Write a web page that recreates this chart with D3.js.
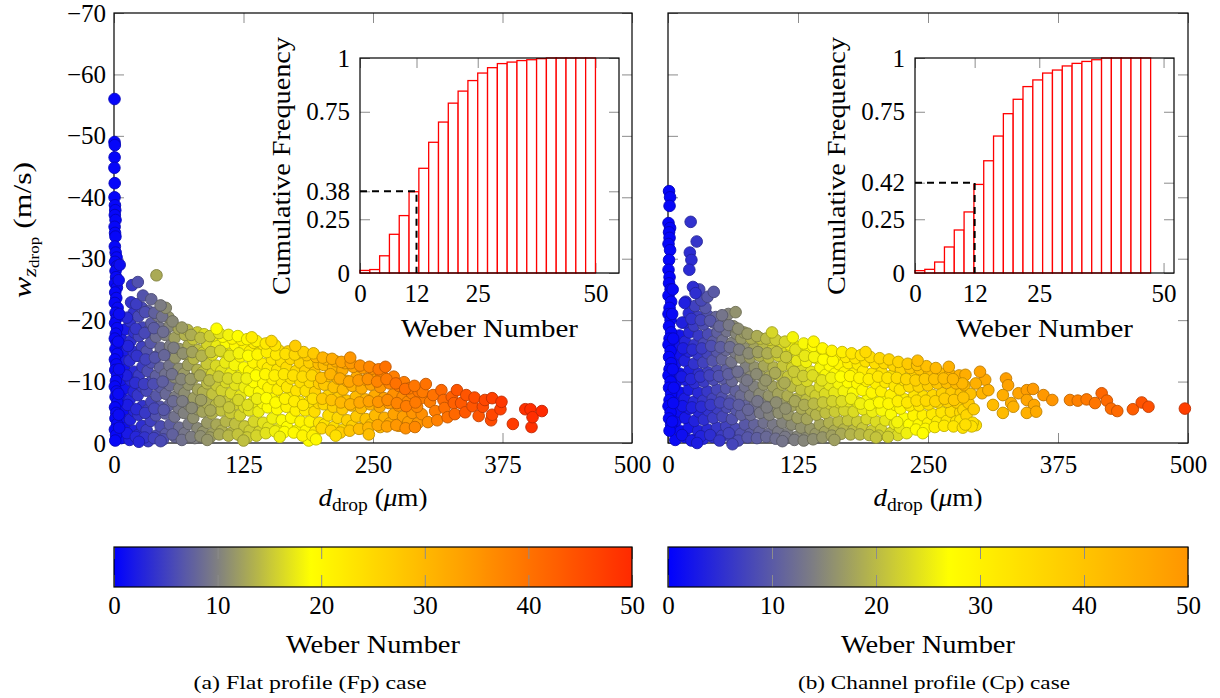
<!DOCTYPE html>
<html><head><meta charset="utf-8">
<script src="https://cdn.jsdelivr.net/npm/d3@7"></script>
<style>
body{margin:0;background:#fff}
svg{display:block}
text{font-family:"Liberation Serif","Times New Roman",serif;fill:#000}
</style>
</head><body>
<svg id="c" width="1220" height="698"></svg>
<script>
// ---------------- DATA ----------------
const xTicks = [0, 125, 250, 375, 500];
const yTicks = [0, -10, -20, -30, -40, -50, -60, -70];
const cbTicks = [0, 10, 20, 30, 40, 50];
const insetXTicks = [0, 12, 25, 50];
const fpInsetYTicks = [0, 0.25, 0.38, 0.75, 1];
const cpInsetYTicks = [0, 0.25, 0.42, 0.75, 1];
const fpCumFreq = [0.012,0.016,0.08,0.18,0.267,0.378,0.487,0.608,0.702,0.79,0.846,0.895,0.93,0.955,0.974,0.981,0.988,0.992,0.997,1,1,1,1,1];
const cpCumFreq = [0.011,0.017,0.051,0.121,0.2,0.284,0.412,0.522,0.637,0.741,0.808,0.867,0.898,0.93,0.944,0.963,0.975,0.984,0.992,1,1,1,1,1];
const fpBinMax = 50, cpBinMax = 47.4;
const fpMark = [12, 0.38], cpMark = [12, 0.42];
const cmapStops = [0, 0.2, 0.38, 0.66, 1];
const cmapColors = ["#0000ff", "#808080", "#ffff00", "#ffa500", "#ff2a00"];
const fpWeMax = 50, cpWeMax = 71;
const captions = ["(a) Flat profile (Fp) case", "(b) Channel profile (Cp) case"];

// [d_drop (um), w_z (m/s), Weber number]
const fpDrops = [
[7,-0.8,1],[10,-2.5,1],[6.5,-4.1,1],[10.5,-5.5,1],[7.5,-7.3,1.5],[11,-8.9,1.5],[7,-10.3,1.5],[10,-12.1,1.5],[7.5,-13.7,2],[10.5,-15.1,2],[7,-16.9,2],[11,-18.5,2],
[15,-0.5,2.5],[19,-2,2.5],[15.5,-3.8,2.6],[19.5,-5.2,2.8],[15,-7,2.9],[19,-8.4,3],[16,-10.2,3.1],[19.5,-11.6,3.3],[15,-13.4,3.4],[19,-14.8,3.5],[16,-16.6,3.6],[19.5,-18,3.8],[15.5,-19.8,3.9],[19,-21.2,4],[16.5,-22.9,4.1],[17.5,-25.7,4.3],
[23,-1.3,3.5],[27,-2.8,3.7],[23.5,-4.6,3.9],[27.5,-6,4],[23,-7.8,4.2],[27,-9.2,4.4],[24,-11,4.6],[27.5,-12.4,4.7],[23,-14.2,4.9],[27,-15.6,5],[24,-17.4,5.2],[27.5,-18.8,5.4],[23.5,-20.6,5.6],[27,-22,5.8],[23,-26.2,6.3],
[33,-0.3,4.5],[31.5,-2.1,4.7],[35.5,-3.6,4.9],[32,-5.3,5.2],[36,-6.7,5.4],[31.5,-8.5,5.6],[35.5,-9.9,5.8],[32.5,-11.7,6],[36,-13.1,6.3],[31.5,-14.9,6.5],[35.5,-16.3,6.8],[32,-18.1,7],[36,-19.5,7.2],[33,-21.5,7.5],
[41,-1.2,5.8],[45,-2.7,6],[40.5,-4.5,6.4],[44.5,-5.9,6.6],[41,-7.7,6.9],[45,-9.1,7.2],[40.5,-10.9,7.5],[44.5,-12.3,7.8],[41,-14.1,8.1],[45,-15.5,8.4],[40.5,-17.3,8.6],[44.5,-18.7,8.9],[42,-20.7,9.2],[41,-27.3,13],
[50,-1.5,7],[54,-3,7.3],[49.5,-4.8,7.6],[53.5,-6.2,7.9],[50,-8,8.2],[54,-9.4,8.5],[49.5,-11.2,8.8],[53.5,-12.6,9.1],[50,-14.4,9.5],[54,-15.8,9.8],[49.5,-17.6,10.1],[53.5,-19,10.4],[52.5,-20.5,11.5],
[59,-1,8.2],[63,-2.5,8.6],[58.5,-4.3,9],[62.5,-5.7,9.4],[59,-7.5,9.8],[63,-8.9,10.2],[58.5,-10.7,10.7],[62.5,-12.1,11],[59,-13.9,11.5],[63,-15.3,11.8],[58.5,-17.1,12.3],[62.5,-18.6,12.6],
[68,-1.6,9.2],[72,-3.1,9.6],[67.5,-4.9,10.1],[71.5,-6.3,10.5],[68,-8.1,11],[72,-9.5,11.4],[67.5,-11.3,11.9],[71.5,-12.7,12.3],[68,-14.5,12.8],[72,-15.9,13.2],[68.5,-17.6,13.6],[71,-18.4,13.9],
[78,-0.8,10],[80.5,-2.4,10.6],[76.5,-4.1,11.1],[80.5,-5.5,11.5],[77,-7.3,12.1],[81,-8.7,12.5],[76.5,-10.5,13],[80.5,-11.9,13.5],[77,-13.7,14],[81,-15.1,14.5],[76.5,-16.9,15],[80.5,-18,15.4],
[86,-1.8,11.4],[90,-3.3,11.9],[85.5,-5.1,12.5],[89.5,-6.5,13],[86,-8.3,13.5],[90,-9.7,14.1],[85.5,-11.5,14.7],[89.5,-12.9,15.2],[86,-14.7,15.8],[90,-16.1,16.2],[87,-17.7,16.8],
[95,-1.5,12.3],[99,-3,12.9],[94.5,-4.8,13.5],[98.5,-6.2,14],[95,-8,14.7],[99,-9.4,15.2],[94.5,-11.2,15.9],[98.5,-12.6,16.4],[95,-14.4,17],[99,-15.8,17.6],[96,-17.5,18.2],
[104,-2,13.3],[108,-3.5,13.8],[103.5,-5.3,14.6],[107.5,-6.7,15.1],[104,-8.5,15.8],[108,-9.9,16.3],[103.5,-11.7,17],[107.5,-13.1,17.6],[104,-14.9,18.3],[108,-16.3,18.8],[105,-17.3,19.2],
[113,-1.6,13.9],[117,-3.1,14.5],[112.5,-4.9,15.2],[116.5,-6.3,15.8],[113,-8.1,16.5],[117,-9.5,17.1],[112.5,-11.3,17.9],[116.5,-12.7,18.4],[113,-14.5,19.2],[117,-15.9,19.8],[114,-17,20.2],
[122,-1.2,14.4],[126,-2.7,15.1],[121.5,-4.5,15.9],[125.5,-5.9,16.5],[122,-7.7,17.3],[126,-9.1,17.9],[121.5,-10.9,18.7],[125.5,-12.3,19.3],[122,-14.1,20.1],[126,-15.5,20.7],[123,-16.8,21.2],
[131,-2,15.5],[135,-3.5,16.2],[130.5,-5.3,17],[134.5,-6.7,17.7],[131,-8.5,18.5],[135,-9.9,19.1],[130.5,-11.7,19.9],[134.5,-13.1,20.6],[131,-14.9,21.4],[135,-16.3,22],
[140,-1.8,16.2],[144,-3.3,17],[139.5,-5.1,17.8],[143.5,-6.5,18.5],[140,-8.3,19.3],[144,-9.7,20],[139.5,-11.5,20.9],[143.5,-12.9,21.6],[140,-14.7,22.4],[144,-16,23],
[149,-2.5,17.2],[153,-4,18],[148.5,-5.8,18.9],[152.5,-7.2,19.6],[149,-9,20.5],[153,-10.4,21.2],[148.5,-12.2,22.1],[152.5,-13.6,22.8],[150,-15.4,23.7],
[158,-2.2,17.9],[162,-3.7,18.7],[157.5,-5.5,19.7],[161.5,-6.9,20.4],[158,-8.7,21.4],[162,-10.1,22.1],[157.5,-11.9,23],[161.5,-13.3,23.8],[159,-15.1,24.7],
[167,-2.6,19],[171,-4.1,19.8],[166.5,-5.9,20.8],[170.5,-7.3,21.6],[167,-9.1,22.6],[171,-10.5,23.4],[166.5,-12.3,24.4],[170.5,-13.7,25.1],[168,-14.9,25.8],
[176,-2,19.5],[180,-3.5,20.4],[175.5,-5.3,21.4],[179.5,-6.7,22.3],[176,-8.5,23.3],[180,-9.9,24.1],[175.5,-11.7,25.1],[179.5,-13.1,25.9],[177,-14.6,26.8],
[188,-0.4,19.2],[185,-2,19.9],[189,-3.5,20.9],[184.5,-5.3,22],[188.5,-6.7,22.9],[185,-8.5,23.9],[189,-9.9,24.8],[184.5,-11.7,25.9],[188.5,-13.1,26.7],[186,-14.3,27.4],
[194,-1.8,22.3],[198,-3.3,23.2],[193.5,-5.1,24.3],[197.5,-6.5,25.2],[194,-8.3,26.3],[198,-9.7,27.1],[193.5,-11.5,28.2],[197.5,-12.9,29.1],[195,-14,29.8],
[203,-3,23.3],[207,-4.5,24.3],[202.5,-6.3,25.4],[206.5,-7.7,26.3],[203,-9.5,27.5],[207,-10.9,28.4],[202.5,-12.7,29.5],[205,-13.6,30.1],
[212,-2.6,24.3],[216,-4.1,25.3],[211.5,-5.9,26.5],[215.5,-7.3,27.5],[212,-9.1,28.6],[216,-10.5,29.6],[211.5,-12.3,30.7],[214,-13.3,31.4],
[221,-2.2,25.3],[225,-3.7,26.4],[220.5,-5.5,27.6],[224.5,-6.9,28.6],[221,-8.7,29.8],[225,-10.1,30.7],[220.5,-11.9,32],[223,-13,32.7],
[230,-2.8,26.5],[234,-4.3,27.6],[229.5,-6.1,28.9],[233.5,-7.5,29.9],[230,-9.3,31.1],[234,-10.7,32.1],[231,-12.4,33.3],
[239,-2.4,27.5],[243,-3.9,28.6],[238.5,-5.7,29.8],[242.5,-7.1,30.8],[239,-8.9,32.1],[243,-10.3,33.2],[240,-12.2,34.5],
[248,-3,28.7],[252,-4.5,29.9],[247.5,-6.3,31.2],[251.5,-7.7,32.3],[248,-9.5,33.6],[252,-10.9,34.7],[249,-12.1,35.6],
[257,-2.6,30],[261,-4.1,31.3],[256.5,-5.9,32.6],[260.5,-7.3,33.7],[257,-9.1,35.1],[261,-10.5,36.3],[258,-11.3,37],
[266,-3.2,32.2],[270,-4.7,33.4],[265.5,-6.5,34.8],[269.5,-7.9,35.9],[266,-9.7,37.4],[270,-10.8,38.2],
[275,-2.8,32.7],[279,-4.3,34],[274.5,-6.1,35.4],[278.5,-7.5,36.6],[275,-9.3,38.1],[280,-9.9,38.6],
[284,-3.4,34.1],[288,-4.9,35.4],[283.5,-6.7,36.9],[287.5,-8.1,38.1],[285,-8.9,38.8],
[293,-3.2,34.8],[297,-4.7,36.1],[292.5,-5.9,37.2],[296.5,-7.3,38.4],[294,-8.4,39.4],
[298,-8.3,39],[303,-3.4,36],[305,-6.7,38.5],[308,-7.8,40],[310,-5.2,38.5],[312,-3.7,38],[316,-8.6,41.5],[318,-7,41],[319,-5.7,40.5],[322,-4.2,40],[326,-7.5,42.5],[328,-6.5,42.5],[329,-4.7,41.5],[331,-8.6,44],[335,-6.5,43.5],[339,-5,43.5],[340,-7.8,44],[346,-6,44],[348,-7.4,45],[352,-4.4,44],[356,-5.9,45.5],[358,-7,46],[364,-3.7,45.5],[365,-4.6,46],[365,-7.3,47],[373,-5.5,47],[374,-6.7,48],[385,-3.1,47.5],[397,-5.5,49],[402,-5.5,49.5],[403,-2.6,49],[404,-4.2,49.5],[413,-5.2,50]
];

// droplets lying between the rows above and along the ragged edges of the Fp cloud
const fpDropsB = [
[12.5,-1.6,2],[13,-6.2,2.2],[12,-11,2.5],[13.5,-15.8,2.8],[12.5,-20.4,3.2],
[21,-1,3],[21.5,-5.5,3.3],[20.5,-9.8,3.6],[22,-14.2,4],[21,-18.6,4.3],[21.5,-22.6,4.7],
[29.5,-0.9,4],[30,-4.9,4.4],[29,-9.6,4.8],[30.5,-13.6,5.2],[29.5,-17.9,5.6],[30,-21.3,6],
[38.5,-0.8,5],[39,-5.6,5.6],[38,-9.6,6],[39.5,-13.9,6.6],[38.5,-18.7,7.2],[39,-21.2,7.6],
[47.5,-0.6,6.2],[48,-5.4,6.8],[47,-10,7.4],[48.5,-14.3,8],[47.5,-18.1,8.6],[46.5,-20.6,9],
[56.5,-1.4,7.6],[57,-6.8,8.4],[56,-11.2,9],[57.5,-15.5,9.8],[56.5,-19.8,10.6],
[65.5,-0.5,8.8],[66,-6.8,9.8],[65,-10.4,10.4],[66.5,-14.6,11.2],[65.5,-18.8,12],
[74.5,-1,9.8],[75,-5.7,10.7],[74,-10.4,11.6],[75.5,-14.8,12.5],[74.5,-17.6,13.2],
[83.5,-1.1,11],[84,-7,12.1],[83,-11,12.9],[84.5,-14.2,13.6],[83.5,-17.1,14.3],
[92.5,-0.9,12],[93,-5.3,12.9],[92,-10.2,14],[93.5,-14.8,15],[92.5,-17.4,15.6],
[101.5,-1.4,13],[102,-6.8,14.3],[101,-10.8,15.2],[102.5,-15,16.3],[101.5,-17.9,17],
[110.5,-1.2,14],[111,-5.8,15],[110,-10.5,16.2],[111.5,-14.2,17.3],[110.5,-17.6,18.2],
[119.5,-1.4,14.8],[120,-7,16.2],[119,-10.6,17.1],[120.5,-14.6,18.3],[119.5,-17.4,19.2],
[128.5,-0.9,15.3],[129,-6.2,16.8],[128,-10.5,18],[129.5,-14.2,19.2],[128.5,-16.9,20],
[137.5,-1.2,16],[138,-7.2,17.8],[137,-11,19],[138.5,-14.4,20.2],[137.5,-16.6,21],
[146.5,-1.6,17],[147,-7.3,19],[146,-11.2,20.3],[147.5,-14.8,21.6],[146.5,-16.2,22.2],
[155.5,-1.9,18],[156,-6.6,19.7],[155,-11,21.3],[156.5,-14.4,22.5],[155.5,-15.9,23.2],
[164.5,-1.8,19],[165,-7.2,21],[164,-11.2,22.6],[165.5,-14.5,23.9],
[173.5,-1.7,20],[174,-6.8,22],[173,-11,23.7],[174.5,-14.4,25],
[182,-1.2,20.5],[182.5,-6.2,22.6],[182,-10.8,24.5],[183,-14.8,26.2],
[191.5,-1.2,21],[192,-7.2,24],[191,-11,25.6],[192.5,-14.6,27.2],
[200.5,-2.4,25],[201,-7.2,27.4],[200,-10.6,29],[201.5,-13.9,30.6],
[209.5,-2,26.1],[210,-7,28.7],[209,-11.2,30.9],[210.5,-13.7,32.1],
[218.5,-1.7,27],[219,-6.6,30],[218,-10.5,32],[219.5,-13.2,33.4],
[227.5,-2,28],[228,-6.3,30.8],[227,-10,33],[228.5,-13,34.6],
[236.5,-2.3,29.5],[237,-6.6,32.5],[236,-10.2,34.5],[237.5,-12.6,36.1],
[245.5,-2.5,30.5],[246,-6.8,33.5],[245,-10.4,35.9],[246.5,-12.4,37.1],
[254.5,-2.9,32.5],[255,-6.7,35.2],[254,-10,37.6],[255.5,-12,39],
[263.5,-2.7,33.6],[264,-7,36.6],[263,-10.4,39],
[272.5,-2.9,35],[273,-6.5,37.6],[272,-9.7,40],
[281.5,-2.4,36],[282,-6,38.6],[281,-8.8,40.4],
[290.5,-2.6,37],[291,-6.6,39],[290,-9.3,39.5],
[99,-18.6,19],[133,-17.2,22],[175,-15.8,27],[228,-13.9,35],[262,-12.4,40],[301,-9.6,40],[50,-22,11],[28,-24,6.5],[36,-23.4,8],[45,-22.4,9.8],[152,-16.6,24.6],
[24,-0.2,3],[45,-0.3,5.8],[90,-0.5,11.5],[125,-0.4,14.5],[160,-1,18],[195,-0.6,20],[214,-1.2,24],[246,-1.4,29]
];

// droplets along the near-wall column of the Fp case (d ~ 0)
const fpWall = [
[0.5,-56,0.5],[0.5,-49,0.5],[0.8,-48.5,0.5],[0.6,-46.5,0.5],[0.4,-44.8,0.5],[0.7,-42.3,0.5],[0.5,-40,0.5],[0.9,-38.7,0.5],[1.2,-37.9,0.5],[0.8,-37.1,0.5],[1.5,-36.3,0.5],[0.6,-35.2,0.5],[1,-34.2,0.5],[1.4,-33.6,0.5],[0.8,-32,0.5],[1.6,-31,0.6],[2.5,-30.2,0.6],[1,-29.5,0.6],[3,-28.8,0.7],[1.5,-28,0.6],[2,-27,0.6],[1,-26,0.6],[2.8,-25.3,0.7],[1.2,-24.5,0.6],[2.2,-23.6,0.7],[0.8,-22.8,0.6],[3.5,-22,0.8],[1.5,-21.2,0.6],[2.5,-20.3,0.7],[1,-19.5,0.6],[3,-18.7,0.8],[1.8,-17.8,0.7],[0.8,-17,0.6],[2.6,-16.2,0.7],[1.4,-15.3,0.6],[3.2,-14.5,0.8],[0.9,-13.6,0.6],[2.2,-12.8,0.7],[1.2,-11.9,0.6],[3,-11,0.8],[1.8,-10.1,0.7],[0.8,-9.2,0.6],[2.5,-8.4,0.7],[1.5,-7.5,0.6],[3.2,-6.6,0.8],[1,-5.8,0.6],[2.2,-4.9,0.7],[1.4,-4,0.6],[3,-3.1,0.8],[0.9,-2.2,0.6],[2,-1.3,0.6],[1.2,-0.4,0.6],[4.5,-4.6,0.9],[5,-2.5,1],[4.2,-8,0.9],[4.8,-12,1],[4,-16.5,0.9],[5,-21,1],[4.5,-26.5,1],[5.5,-29,1.1]
];

const cpDrops = [
[7,-0.5,1.1],[11,-2,1.2],[7.5,-3.6,1.3],[11,-5.1,1.3],[7,-6.7,1.4],[11.5,-8.2,1.5],[7.5,-9.8,1.6],[11,-11.3,1.7],[7,-12.9,1.8],[11.5,-14.4,1.9],[7.5,-16,2],[11,-17.5,2.1],
[16,-1,2.2],[20,-2.5,2.4],[16.5,-4.1,2.6],[20.5,-5.6,2.8],[16,-7.2,3],[20,-8.7,3.1],[16.5,-10.3,3.3],[20.5,-11.8,3.5],[16,-13.4,3.7],[20,-14.9,3.9],[16.5,-16.5,4.1],[20.5,-18,4.3],[16,-19.6,4.5],[20,-21.1,4.6],[17,-23,4.9],
[25,-0.5,3.2],[29,-2,3.5],[25.5,-3.6,3.8],[29.5,-5.1,4.1],[25,-6.7,4.4],[29,-8.2,4.6],[25.5,-9.8,5],[29.5,-11.3,5.2],[25,-12.9,5.5],[29,-14.4,5.8],[25.5,-16,6],[29.5,-17.5,6.3],[25,-19.1,6.6],[29,-20.6,6.9],[26,-22.3,7.2],
[34,-0.7,4.4],[38,-2.2,4.7],[34.5,-3.8,5.1],[38.5,-5.3,5.5],[34,-6.9,5.9],[38,-8.4,6.2],[34.5,-10,6.6],[38.5,-11.5,7],[34,-13.1,7.3],[38,-14.6,7.7],[34.5,-16.2,8.1],[38.5,-17.7,8.4],[34,-19.3,8.8],[38,-20.8,9.2],[36,-22,9.5],
[43,-1,5.5],[47,-2.5,6],[43.5,-4.1,6.5],[47.5,-5.6,6.9],[43,-7.2,7.4],[47,-8.7,7.9],[43.5,-10.3,8.3],[47.5,-11.8,8.8],[43,-13.4,9.3],[47,-14.9,9.7],[43.5,-16.5,10.2],[47.5,-18,10.6],[44,-19.6,11.1],[46,-20.5,11.4],
[52,-1.2,6.7],[56,-2.7,7.3],[52.5,-4.3,7.8],[56.5,-5.8,8.4],[52,-7.4,9],[56,-8.9,9.5],[52.5,-10.5,10.1],[56.5,-12,10.6],[52,-13.6,11.2],[56,-15.1,11.7],[52.5,-16.7,12.3],[56.5,-18.2,12.9],[54,-19.5,13.3],
[61,-0.8,7.7],[65,-2.3,8.3],[61.5,-3.9,9],[65.5,-5.4,9.6],[61,-7,10.3],[65,-8.5,10.9],[61.5,-10.1,11.6],[65.5,-11.6,12.2],[61,-13.2,12.9],[65,-14.7,13.5],[61.5,-16.3,14.2],[65.5,-17.8,14.8],[63,-19,15.3],
[70,-1.5,9.1],[74,-3,9.8],[70.5,-4.6,10.6],[74.5,-6.1,11.3],[70,-7.7,12.1],[74,-9.2,12.8],[70.5,-10.8,13.6],[74.5,-12.3,14.3],[70,-13.9,15.1],[74,-15.4,15.8],[70.5,-17,16.6],[73,-18,17],
[79,-1.5,10.3],[83,-3,11.1],[79.5,-4.6,11.9],[83.5,-6.1,12.7],[79,-7.7,13.6],[83,-9.2,14.4],[79.5,-10.8,15.3],[83.5,-12.3,16.1],[79,-13.9,16.9],[83,-15.4,17.8],[80,-17,18.6],
[88,-1.8,11.6],[92,-3.3,12.5],[88.5,-4.9,13.4],[92.5,-6.4,14.3],[88,-8,15.3],[92,-9.5,16.2],[88.5,-11.1,17.2],[92.5,-12.6,18.1],[88,-14.2,19],[92,-15.7,19.9],[89,-17,20.7],
[97,-1.5,12.4],[101,-3,13.4],[97.5,-4.6,14.4],[101.5,-6.1,15.4],[97,-7.7,16.4],[101,-9.2,17.4],[97.5,-10.8,18.5],[101.5,-12.3,19.4],[97,-13.9,20.5],[101,-15.4,21.5],[98,-16.8,22.4],
[106,-1.8,13.6],[110,-3.3,14.6],[106.5,-4.9,15.8],[110.5,-6.4,16.8],[106,-8,17.9],[110,-9.5,19],[106.5,-11.1,20.1],[110.5,-12.6,21.2],[106,-14.2,22.3],[110,-15.6,23.3],[108,-16.3,23.8],
[115,-1.5,14.3],[119,-3,15.4],[115.5,-4.6,16.6],[119.5,-6.1,17.7],[115,-7.7,18.9],[119,-9.2,20.1],[115.5,-10.8,21.3],[119.5,-12.3,22.4],[115,-13.9,23.6],[119,-15.3,24.7],[117,-16,25.2],
[124,-1,14.8],[128,-2.5,16],[124.5,-4.1,17.3],[128.5,-5.6,18.5],[124,-7.2,19.8],[128,-8.7,21],[124.5,-10.3,22.2],[128.5,-11.8,23.4],[124,-13.4,24.7],[128,-14.9,25.9],[126,-15.6,26.5],
[133,-0.8,15.4],[137,-2.3,16.6],[133.5,-3.9,18],[137.5,-5.4,19.2],[133,-7,20.6],[137,-8.5,21.8],[133.5,-10.1,23.2],[137.5,-11.6,24.4],[133,-13.2,25.8],[137,-14.5,26.9],[135,-15.2,27.5],
[142,-1.5,16.7],[146,-3,18],[142.5,-4.6,19.4],[146.5,-6.1,20.8],[142,-7.7,22.2],[146,-9.2,23.5],[142.5,-10.8,24.9],[146.5,-12.3,26.2],[142,-13.9,27.6],[145,-15,28.6],
[151,-1.8,17.8],[155,-3.3,19.1],[151.5,-4.9,20.6],[155.5,-6.4,22],[151,-8,23.5],[155,-9.5,24.8],[151.5,-11.1,26.3],[155.5,-12.6,27.7],[152,-14.2,29.2],
[160,-2,18.7],[164,-3.5,20.2],[160.5,-5.1,21.7],[164.5,-6.6,23.1],[160,-8.2,24.7],[164,-9.7,26.1],[160.5,-11.3,27.6],[164.5,-12.8,29.1],[162,-14.3,30.5],
[169,-2.2,19.7],[173,-3.7,21.2],[169.5,-5.3,22.8],[173.5,-6.8,24.3],[169,-8.4,25.9],[173,-9.9,27.4],[169.5,-11.5,29],[173.5,-13,30.5],[171,-14,31.5],
[178,-2,20.3],[182,-3.5,21.8],[178.5,-5.1,23.5],[182.5,-6.6,25],[178,-8.2,26.7],[182,-9.7,28.3],[178.5,-11.3,30],[182.5,-12.8,31.5],[180,-13.8,32.5],
[187,-2.4,21.5],[191,-3.9,23.1],[187.5,-5.5,24.9],[191.5,-7,26.5],[187,-8.6,28.2],[191,-10.1,29.8],[187.5,-11.7,31.5],[190,-13.3,33.3],
[196,-2,21.8],[200,-3.5,23.5],[196.5,-5.1,25.3],[200.5,-6.6,27],[196,-8.2,28.8],[200,-9.7,30.5],[196.5,-11.3,32.3],[199,-13,34.2],
[205,-2.2,22.9],[209,-3.7,24.6],[205.5,-5.3,26.4],[209.5,-6.8,28.2],[205,-8.4,30.1],[209,-9.9,31.8],[205.5,-11.5,33.6],[208,-13,35.4],
[214,-1.6,22.9],[218,-3.1,24.7],[214.5,-4.7,26.6],[218.5,-6.2,28.4],[214,-7.8,30.4],[218,-9.3,32.2],[214.5,-10.9,34.1],[217,-12.6,36.1],
[221,-1.3,23.3],[223,-2.5,24.8],[227,-4,26.7],[223.5,-5.6,28.6],[227.5,-7.1,30.5],[223,-8.7,32.5],[227,-10.2,34.3],[224,-12,36.6],
[232,-3,27.2],[236,-4.5,29.2],[232.5,-6.1,31.2],[236.5,-7.6,33.1],[232,-9.2,35.2],[236,-10.7,37.1],[233,-12.2,39],
[241,-3,28],[245,-4.5,30],[241.5,-6.1,32.2],[245.5,-7.6,34.1],[241,-9.2,36.2],[245,-10.7,38.2],[242,-12,39.9],
[250,-3.2,29.7],[254,-4.7,31.7],[250.5,-6.3,33.9],[254.5,-7.8,35.9],[250,-9.4,38.1],[254,-10.9,40.1],[251,-11.8,41.3],
[259,-3.5,30.9],[263,-5,33],[259.5,-6.6,35.2],[263.5,-8.1,37.3],[259,-9.7,39.6],[262,-11.3,41.8],
[268,-3.6,32.4],[272,-5.1,34.5],[268.5,-6.7,36.8],[272.5,-8.2,39],[268,-9.8,41.3],[271,-11.2,43.3],
[277,-3.5,33.1],[281,-5,35.3],[277.5,-6.6,37.7],[281.5,-8.1,39.9],[277,-9.7,42.3],[280,-11,44.2],
[285,-9.4,43],[286,-11.1,45],[283,-9.7,43],[281,-3.7,33],[284,-5.4,36],[287,-4.5,36],[289,-6.5,39],[291,-8,41],[294,-5.5,38],[296,-2.9,34],[293,-3.3,34],[292,-2.7,33.5],[305,-10.3,46],[296,-9.7,44.5],[302,-8.1,43.5],[308,-8.6,44.5],[312.5,-6.2,42],[325,-10.5,48],[327,-9.4,47.5],[322,-7.8,45],[330,-6.5,45],[332,-5.9,44],[322,-4.9,42],[337,-8.1,47],[345,-8.6,48.5],[351,-8.8,49],[345,-7,47],[352,-6.2,46.5],[345,-4.9,44.5],[354,-5.1,45.5],[361,-7.8,49.5],[369.5,-7,50],[386.5,-7,53],[394,-6.9,54],[402.5,-7.1,55.5],[410.6,-6.5,56],[417,-8.1,59],[422,-6.9,58.5],[426,-5.6,58],[432,-5.2,58.5],[447,-5.5,61],[455.5,-6.6,63],[462,-5.9,63.5],[497,-5.6,67]
];

// droplets lying between the rows above and along the ragged edges of the Cp cloud
const cpDropsB = [
[13.5,-1.3,1.7],[14,-6,2.2],[13,-10.8,2.7],[14.5,-15.4,3.2],[13.5,-19.6,3.6],
[22.5,-0.4,2.8],[23,-5.8,3.5],[22,-10.4,4.2],[23.5,-15.2,4.9],[22.5,-20.2,5.6],
[31.5,-1.1,3.8],[32,-5.9,4.8],[31,-10.8,5.7],[32.5,-15.4,6.6],[31.5,-20,7.4],[32,-23.2,8],
[40.5,-1.3,5],[41,-6.2,6.2],[40,-11,7.4],[41.5,-15.8,8.6],[40.5,-19.9,9.6],
[49.5,-0.4,6],[50,-6.6,7.8],[49,-10.9,9],[50.5,-15.6,10.4],[49.5,-19,11.4],
[58.5,-1.6,7.4],[59,-6.4,9],[58,-11.2,10.6],[59.5,-15.6,12.2],[58.5,-19.2,13.4],
[67.5,-0.4,8.4],[68,-6.2,10.4],[67,-11.6,12.4],[68.5,-15.2,14],[67.5,-18.6,15.5],
[76.5,-0.9,9.6],[77,-5.4,11.4],[76,-10.2,13.4],[77.5,-14.6,15.4],[76.5,-17.8,16.8],
[85.5,-0.8,10.5],[86,-6.8,13.2],[85,-11.2,15.4],[86.5,-14.8,17.4],[85.5,-17.4,18.6],
[94.5,-1,11.6],[95,-5.8,14],[94,-10.2,16.4],[95.5,-14.6,18.8],[94.5,-17,20],
[103.5,-0.7,12.4],[104,-6.6,15.6],[103,-11.4,18.4],[104.5,-14.8,20.6],[103.5,-16.8,21.8],
[112.5,-1,13.4],[113,-5.6,16],[112,-9.8,18.6],[113.5,-14,21.4],[112.5,-16.5,23],
[121.5,-0.5,14],[122,-6.8,18.2],[121,-11.6,21.6],[122.5,-15.2,24.2],
[130.5,-0.4,14.8],[131,-6.2,18.7],[130,-10.9,22],[131.5,-14.2,24.8],[130.5,-16.2,26.4],
[139.5,-0.6,15.6],[140,-6.4,20],[139,-11,23.6],[140.5,-14,26],[139.5,-15.8,27.4],
[148.5,-0.9,16.4],[149,-6.6,21.4],[148,-10.2,24.2],[149.5,-13.6,27.2],[148.5,-15.4,28.6],
[157.5,-1.2,17.4],[158,-6.8,22.6],[157,-10.6,25.6],[158.5,-13.4,28],[157.5,-15,29.4],
[166.5,-1.5,18.4],[167,-6.8,23.6],[166,-10.8,27],[167.5,-14.8,30.6],
[175.5,-1.4,19.4],[176,-7.2,25.4],[175,-10.9,28.8],[176.5,-14.6,32.4],
[184.5,-1.4,20],[185,-6.4,25.6],[184,-10.6,29.4],[185.5,-14.3,33],
[193.5,-1.3,20.8],[194,-6.2,26.4],[193,-10.4,30.6],[194.5,-14,34.4],
[202.5,-1.2,21.6],[203,-6.6,28],[202,-10.8,32.2],[203.5,-13.8,35.6],
[211.5,-1,22.2],[212,-6.4,28.8],[211,-10.6,33],[212.5,-13.6,36.4],
[220.5,-3.4,26],[221,-6.8,30.6],[220,-10.6,34.4],[221.5,-13.2,37],
[229.5,-1.6,25.5],[230,-6.6,32],[229,-10.4,36],[230.5,-12.9,38.8],
[238.5,-2.2,27.6],[239,-6.9,34],[238,-10.2,37.4],[239.5,-12.7,40],
[247.5,-2.3,28.6],[248,-6.9,35.2],[247,-10.4,38.8],[248.5,-12.5,41.2],
[256.5,-2.6,30.2],[257,-6.8,36.2],[256,-10.4,40.4],[257.5,-12.2,42.4],
[265.5,-2.8,31.6],[266,-7.2,37.8],[265,-10.5,41.6],
[274.5,-2.7,32.6],[275,-7,38.8],[274,-10.4,42.8],
[283.5,-2.5,33.2],[284,-7.4,40],[286,-3,34],
[100,-18,23],[140,-16.5,28.5],[190,-14.8,35],[240,-13.4,41.5],[270,-12.4,44],[58,-21,14.6],[38,-23.8,9.6],[30,-25,8],[120,-17.2,26],[300,-11.6,47],
[28,0,3.2],[62,0.2,7.6],[110,-0.3,13],[160,-0.5,17.3],[200,-0.9,21],[245,-1.6,27.4],
[21.8,-36,5.5],[27.6,-32.8,6],[21,-31,5],[22.5,-29.8,5],[20.5,-28.2,4.8],[24,-25.4,5],[26.5,-24.4,5.2],[16,-22.8,3.5],[44,-24.6,10],[52,-20.8,13],[65,-21.3,16]
];

// droplets along the near-wall column of the Cp case (d ~ 0)
const cpWall = [
[1,-41,0.8],[2,-40,0.8],[1.5,-38.6,0.8],[0.5,-35.8,0.7],[2,-35,0.7],[1,-34.3,0.7],[1.5,-33.4,0.7],[0.5,-32.4,0.7],[2,-31.4,0.7],[1,-29.8,0.6],[0.5,-28.2,0.6],[1.5,-27,0.6],[1,-26,0.6],[2.5,-25,0.7],[0.5,-24,0.6],[3,-23,0.8],[1.5,-22,0.6],[0.5,-21,0.6],[2.5,-20,0.7],[1,-19,0.6],[3,-18,0.8],[1.5,-17,0.6],[0.5,-16,0.6],[2.5,-15,0.7],[1,-14,0.6],[3,-13,0.8],[1.5,-12,0.6],[0.5,-11,0.6],[2.5,-10,0.7],[1,-9,0.6],[3,-8,0.8],[1.5,-7,0.6],[0.5,-6,0.6],[2.5,-5,0.7],[1,-4,0.6],[3,-3,0.8],[1.5,-2,0.6],[4,-3.5,0.9],[5,-6.5,1],[4.5,-12,1],[5,-17,1],[4,-21,0.9],[5.5,-9,1],[4.5,-25,1]
];

// ---------------- DRAWING ----------------
const svg = d3.select("#c");
const FONT = '"Liberation Serif","Times New Roman",serif';
const TICK = "#8c8c8c";

function colorScale(weMax) {
  return d3.scaleLinear().domain(cmapStops.map(s => s * weMax)).range(cmapColors)
    .interpolate(d3.interpolateRgb).clamp(true);
}
function styleAxis(g, size) {
  g.attr("font-family", FONT).attr("font-size", size);
  g.select(".domain").remove();
  g.selectAll(".tick line").attr("stroke", TICK).attr("stroke-width", 1);
  g.selectAll(".tick text").attr("fill", "#000");
}
const blank = () => "";
const fmtY = d => d === 0 ? "0" : "\u2212" + Math.abs(d);
const fmtPlain = d => String(d);

function label(parent, x, y, len, size, rot) {
  const t = parent.append("text").attr("text-anchor", "middle").attr("font-size", size)
    .attr("transform", `translate(${x},${y})` + (rot ? ` rotate(${rot})` : ""));
  if (len) t.attr("textLength", len).attr("lengthAdjust", "spacingAndGlyphs");
  return t;
}

function panel(p) {
  const g = svg.append("g");
  const x = d3.scaleLinear([0, 500], [p.x0, p.x1]);
  const y = d3.scaleLinear([0, -70], [443, 13]);

  g.append("g").attr("transform", `translate(0,${y(0)})`)
    .call(d3.axisBottom(x).tickValues(xTicks).tickSize(-10).tickPadding(12)).call(styleAxis, 25);
  g.append("g").attr("transform", `translate(0,${y(-70)})`)
    .call(d3.axisTop(x).tickValues(xTicks).tickSize(-10).tickFormat(blank)).call(styleAxis, 25);
  g.append("g").attr("transform", `translate(${x(0)},0)`)
    .call(d3.axisLeft(y).tickValues(yTicks).tickSize(-10).tickPadding(8).tickFormat(p.yLabels ? fmtY : blank)).call(styleAxis, 25);
  g.append("g").attr("transform", `translate(${x(500)},0)`)
    .call(d3.axisRight(y).tickValues(yTicks).tickSize(-10).tickFormat(blank)).call(styleAxis, 25);
  g.append("rect").attr("x", x(0)).attr("y", y(-70)).attr("width", x(500) - x(0)).attr("height", y(0) - y(-70))
    .attr("fill", "none").attr("stroke", "#000").attr("stroke-width", 1.2);

  const cs = colorScale(p.weMax);
  const all = p.drops.concat(p.dropsB, p.wall);
  g.append("g").selectAll("circle").data(all).join("circle")
    .attr("cx", d => x(d[0])).attr("cy", d => y(d[1])).attr("r", 5.8)
    .attr("fill", d => cs(d[2]))
    .attr("stroke", d => d3.interpolateRgb(cs(d[2]), "#000")(0.25))
    .attr("stroke-width", 0.9);

  const xl = label(g, (p.x0 + p.x1) / 2, 506, 109, 25);
  xl.append("tspan").attr("font-style", "italic").text("d");
  xl.append("tspan").attr("font-size", 18).attr("dy", 5).text("drop");
  xl.append("tspan").attr("dy", -5).text(" (");
  xl.append("tspan").attr("font-style", "italic").text("\u03bc");
  xl.append("tspan").text("m)");

  if (p.yLabels) {
    const yl = label(g, 31, 230, 136, 26, -90);
    yl.append("tspan").attr("font-style", "italic").text("w");
    yl.append("tspan").attr("font-style", "italic").attr("font-size", 19).attr("dy", 5).text("z");
    yl.append("tspan").attr("font-size", 14).attr("dy", 3).text("drop");
    yl.append("tspan").attr("dy", -8).text(" (m/s)");
  }

  // ---- inset ----
  const xi = d3.scaleLinear([0, p.insetXMax], [p.ix0, p.ix1]);
  const yi = d3.scaleLinear([0, 1], [273, 58]);
  const ig = svg.append("g");
  ig.append("rect").attr("x", p.ix0).attr("y", 58).attr("width", p.ix1 - p.ix0).attr("height", 215).attr("fill", "#fff");
  ig.append("g").attr("transform", `translate(0,${yi(0)})`)
    .call(d3.axisBottom(xi).tickValues(insetXTicks).tickSize(-10).tickPadding(11).tickFormat(fmtPlain)).call(styleAxis, 25);
  ig.append("g").attr("transform", `translate(0,${yi(1)})`)
    .call(d3.axisTop(xi).tickValues(insetXTicks).tickSize(-10).tickFormat(blank)).call(styleAxis, 25);
  ig.append("g").attr("transform", `translate(${p.ix0},0)`)
    .call(d3.axisLeft(yi).tickValues(p.insetYTicks).tickSize(-10).tickPadding(10).tickFormat(fmtPlain)).call(styleAxis, 25);
  ig.append("g").attr("transform", `translate(${p.ix1},0)`)
    .call(d3.axisRight(yi).tickValues(p.insetYTicks).tickSize(-10).tickFormat(blank)).call(styleAxis, 25);
  const bw = p.binMax / p.cum.length;
  ig.append("g").selectAll("rect").data(p.cum).join("rect")
    .attr("x", (d, i) => xi(i * bw)).attr("width", xi(bw) - xi(0))
    .attr("y", d => yi(d)).attr("height", d => yi(0) - yi(d))
    .attr("fill", "#fff").attr("stroke", "#ff0000").attr("stroke-width", 1.3);
  ig.append("path")
    .attr("d", `M${xi(0)},${yi(p.mark[1])}H${xi(p.mark[0])}V${yi(0)}`)
    .attr("fill", "none").attr("stroke", "#000").attr("stroke-width", 2).attr("stroke-dasharray", "7,5");
  ig.append("rect").attr("x", p.ix0).attr("y", 58).attr("width", p.ix1 - p.ix0).attr("height", 215)
    .attr("fill", "none").attr("stroke", "#000").attr("stroke-width", 1.2);
  label(ig, (p.ix0 + p.ix1) / 2, 337, 177, 25).text("Weber Number");
  label(ig, p.ix0 - 79, 166, 258, 25, -90).attr("dy", "0.35em").text("Cumulative Frequency");

  // ---- colorbar ----
  const cb = d3.scaleLinear([0, 50], [p.x0, p.x1]);
  const gid = "grad" + p.id;
  const grad = svg.append("defs").append("linearGradient").attr("id", gid)
    .attr("x1", "0%").attr("x2", "100%").attr("y1", "0%").attr("y2", "0%");
  grad.selectAll("stop").data(d3.range(0, 50.01, 1)).join("stop")
    .attr("offset", d => d / 50).attr("stop-color", d => cs(d));
  const cg = svg.append("g");
  cg.append("rect").attr("x", p.x0).attr("y", 547).attr("width", p.x1 - p.x0).attr("height", 40).attr("fill", `url(#${gid})`);
  cg.append("g").attr("transform", "translate(0,587)")
    .call(d3.axisBottom(cb).tickValues(cbTicks).tickSize(-12).tickPadding(9).tickFormat(fmtPlain)).call(styleAxis, 25);
  cg.append("g").attr("transform", "translate(0,547)")
    .call(d3.axisTop(cb).tickValues(cbTicks).tickSize(-12).tickFormat(blank)).call(styleAxis, 25);
  cg.append("rect").attr("x", p.x0).attr("y", 547).attr("width", p.x1 - p.x0).attr("height", 40)
    .attr("fill", "none").attr("stroke", "#000").attr("stroke-width", 1.2);
  label(cg, (p.x0 + p.x1) / 2, 653, 174, 25).text("Weber Number");

  label(svg, p.capX, 689, p.capLen, 19).text(p.caption);
}

panel({id: "fp", x0: 114, x1: 632, yLabels: true, drops: fpDrops, dropsB: fpDropsB, wall: fpWall, weMax: fpWeMax,
  ix0: 360, ix1: 619, insetXMax: 55, insetYTicks: fpInsetYTicks, cum: fpCumFreq, binMax: fpBinMax, mark: fpMark,
  caption: captions[0], capX: 310, capLen: 233});
panel({id: "cp", x0: 668, x1: 1188, yLabels: false, drops: cpDrops, dropsB: cpDropsB, wall: cpWall, weMax: cpWeMax,
  ix0: 915, ix1: 1174, insetXMax: 52.1, insetYTicks: cpInsetYTicks, cum: cpCumFreq, binMax: cpBinMax, mark: cpMark,
  caption: captions[1], capX: 934, capLen: 272});
</script>
</body></html>
